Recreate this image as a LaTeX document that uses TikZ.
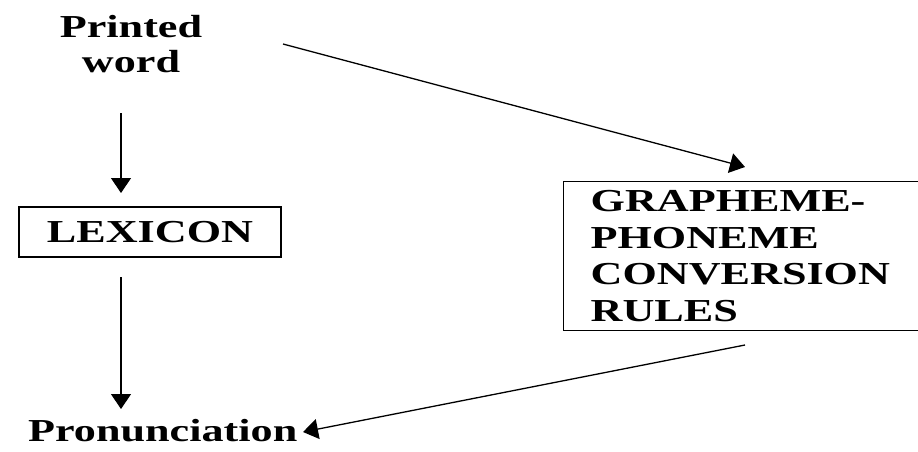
\documentclass[tikz,border=0pt]{standalone}
\usepackage{fontspec}
\setmainfont{Liberation Serif}[FakeStretch=1.38]
\usetikzlibrary{arrows.meta}
\begin{document}
\begin{tikzpicture}[x=1pt,y=-1pt,
  lbl/.style={font=\fontsize{32}{35}\selectfont\bfseries, inner sep=0pt, align=center},
  boxed/.style={draw, line width=1.3pt},
  arr/.style={line width=1.3pt, -{Triangle[length=15pt,width=20pt]}}]
\useasboundingbox (0,0) rectangle (918,451);
\node[lbl, anchor=north] (pw) at (131,15) {Printed\\word};
\node[lbl, boxed, minimum width=262pt, minimum height=50pt] (lex) at (150,232) {LEXICON};
\begin{scope}
\clip (0,0) rectangle (918,451);
\node[boxed, anchor=north west, font=\fontsize{32}{36.7}\selectfont\bfseries,
      align=left, text width=400pt, inner xsep=27pt, inner ysep=0pt,
      minimum height=149pt] (gpc) at (563,181) {GRAPHEME-\\PHONEME\\CONVERSION\\RULES};
\end{scope}
\node[font=\fontsize{32}{35}\selectfont\bfseries, inner sep=0pt, anchor=base west] (pron) at (28,441) {Pronunciation};
\coordinate (a1s) at (121,113);
\coordinate (a1e) at (121,193);
\coordinate (a2s) at (121,277);
\coordinate (a2e) at (121,409);
\coordinate (a3s) at (283,44);
\coordinate (a3e) at (745,167);
\coordinate (a4s) at (745,345);
\coordinate (a4e) at (303,432);
\draw[arr] (a1s) -- (a1e);
\draw[arr] (a2s) -- (a2e);
\draw[arr] (a3s) -- (a3e);
\draw[arr] (a4s) -- (a4e);
\end{tikzpicture}
\end{document}
